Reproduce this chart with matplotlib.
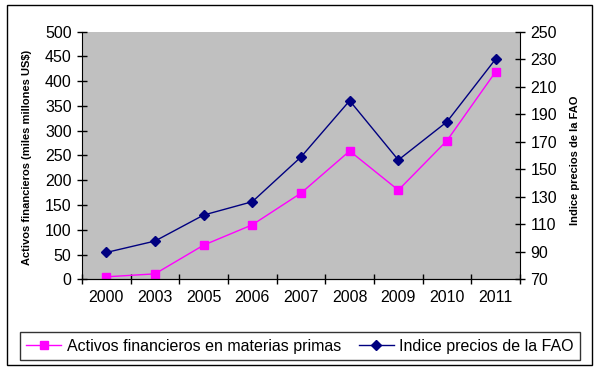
import numpy as np
from matplotlib import pyplot as plt
from matplotlib.patches import Rectangle

plt.rcParams['font.family'] = ['Liberation Sans', 'DejaVu Sans']

years = ['2000', '2003', '2005', '2006', '2007', '2008', '2009', '2010', '2011']
activos = [5, 11, 69, 110, 174, 259, 180, 280, 419]
fao = [89.5, 97.8, 116.7, 126.4, 158.9, 199.8, 156.7, 184.5, 230.1]

fig = plt.figure(figsize=(6, 3.72), dpi=100)
# marco exterior del grafico
fig.patches.append(Rectangle((7 / 600, 1 - 365 / 372), 585 / 600, 360 / 372, transform=fig.transFigure,
                             fill=False, edgecolor='black', linewidth=1))

ax = fig.add_axes([82 / 600, 1 - 279.3 / 372, 438 / 600, 247.7 / 372])
ax.set_facecolor('#C0C0C0')
x = np.arange(len(years))
l1, = ax.plot(x, activos, color='#FF00FF', marker='s', markersize=6, linewidth=1,
              label='Activos financieros en materias primas')
ax.set_xlim(-0.5, len(years) - 0.5)
ax.set_ylim(0, 500)
ax.set_yticks(np.arange(0, 501, 50))
ax.set_xticks(x)
ax.set_xticklabels(years)
ax.set_xticks(np.arange(-0.5, len(years), 1), minor=True)
ax.tick_params(axis='x', which='major', length=0, pad=8, labelsize=11.5)
ax.tick_params(axis='x', which='minor', direction='inout', length=7, width=1)
ax.tick_params(axis='y', direction='inout', length=7, width=1, labelsize=11.5, pad=4)
ax.spines['top'].set_visible(False)
ax.spines['right'].set_visible(False)
ax.set_ylabel('Activos financieros (miles millones US$)', fontsize=8, fontweight='bold')
ax.yaxis.set_label_coords(-0.114, 0.49)

ax2 = ax.twinx()
l2, = ax2.plot(x, fao, color='#000080', marker='D', markersize=5, linewidth=1,
               label='Indice precios de la FAO')
ax2.set_ylim(70, 250)
ax2.set_yticks(np.arange(70, 251, 20))
ax2.tick_params(axis='y', direction='inout', length=7, width=1, labelsize=11.5, pad=4)
ax2.spines['top'].set_visible(False)
ax2.spines['left'].set_visible(False)
ax2.set_ylabel('Indice precios de la FAO', fontsize=8, fontweight='bold')
ax2.yaxis.set_label_coords(1.114, 0.48)

leg = fig.legend(handles=[l1, l2], loc='center', bbox_to_anchor=(300 / 600, 1 - 346 / 372), ncol=2,
                 fontsize=11.5, frameon=True, fancybox=False, edgecolor='black', handlelength=2.2,
                 handletextpad=0.35, columnspacing=1.1, borderpad=0.4)
leg.get_frame().set_linewidth(1)

plt.savefig('out.png', dpi=100)
